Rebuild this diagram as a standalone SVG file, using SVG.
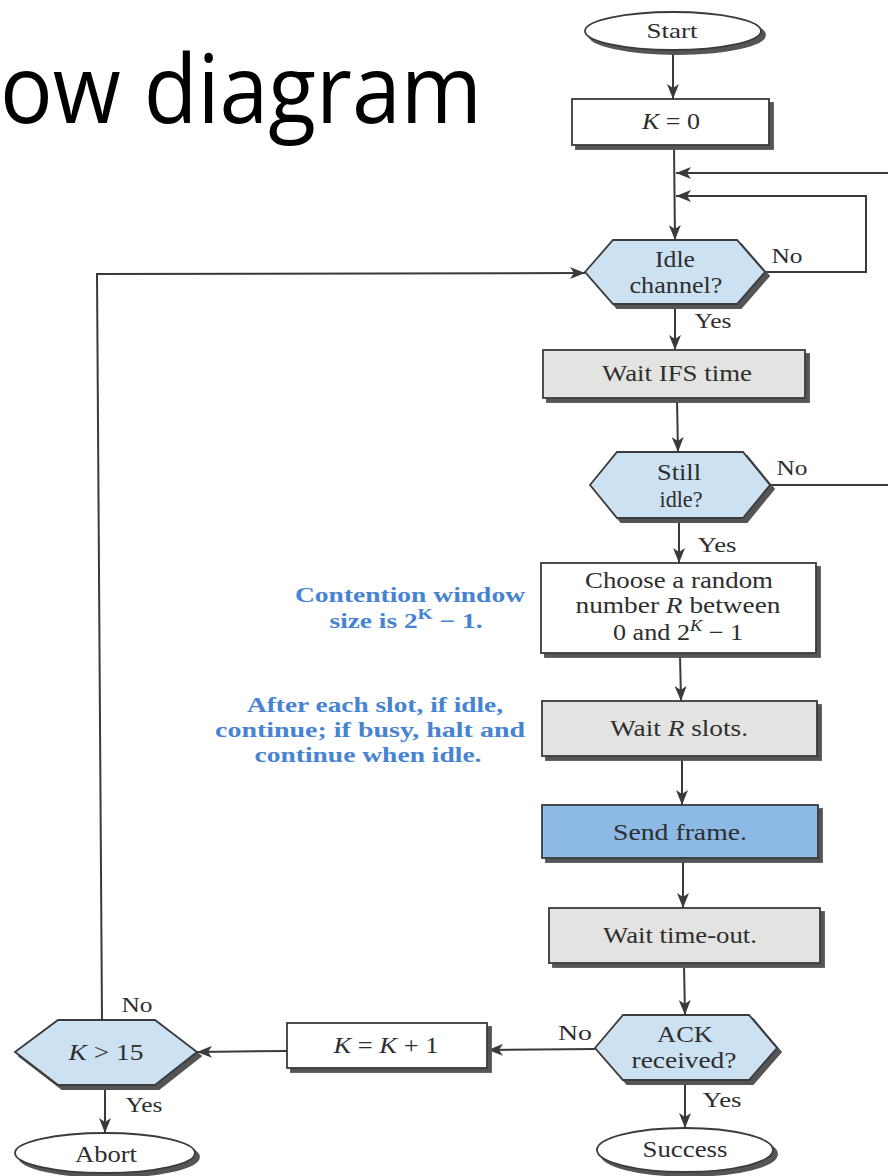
<svg xmlns="http://www.w3.org/2000/svg" width="888" height="1176" viewBox="0 0 888 1176">
<style>
.t{font-family:"Liberation Serif","Times New Roman",serif;font-size:23px;fill:#2e2e2e;text-anchor:middle}
.s{font-size:21px}
.i{font-style:italic}
.b{font-family:"Liberation Serif","Times New Roman",serif;font-size:21px;font-weight:bold;fill:#4683d2;text-anchor:middle}
.ttl{font-family:"Open Sans","Noto Sans","Liberation Sans",sans-serif;font-size:95px;fill:#000}
.ln{fill:none;stroke:#3a3a3a;stroke-width:2}
.box{stroke:#3a3a3a;stroke-width:1.8;filter:url(#sh)}
.wh{fill:#fff}
.gr{fill:#e3e3e1}
.bl{fill:#8cb9e6}
.hx{fill:#cce2f3}
</style>
<defs>
<filter id="sh" x="-10%" y="-10%" width="130%" height="140%">
<feFlood flood-color="#555" result="c"/>
<feComposite in="c" in2="SourceAlpha" operator="in" result="a"/>
<feOffset in="a" dx="4" dy="4" result="o"/>
<feMerge><feMergeNode in="o"/><feMergeNode in="SourceGraphic"/></feMerge>
</filter>
<marker id="ar" markerUnits="userSpaceOnUse" markerWidth="16" markerHeight="12" refX="15" refY="6" orient="auto">
<path d="M0,0 L15,6 L0,12 L4,6 z" fill="#3a3a3a"/>
</marker>
</defs>
<rect width="888" height="1176" fill="#fff"/>
<text class="ttl" x="0" y="123" textLength="482" lengthAdjust="spacingAndGlyphs">ow diagram</text>

<g id="connectors" class="ln">
<path d="M673,50 L673,99" marker-end="url(#ar)"/>
<path d="M674,147 L675,240" marker-end="url(#ar)"/>
<path d="M888,173 L676,173" marker-end="url(#ar)"/>
<path d="M765,272 L866,272 L866,196 L676,196" marker-end="url(#ar)"/>
<path d="M675,304 L675,350" marker-end="url(#ar)"/>
<path d="M677,400 L678,452" marker-end="url(#ar)"/>
<path d="M770,485 L888,485"/>
<path d="M679,518 L679,563" marker-end="url(#ar)"/>
<path d="M680,655 L681,701" marker-end="url(#ar)"/>
<path d="M682,758 L682,805" marker-end="url(#ar)"/>
<path d="M683,860 L683,908" marker-end="url(#ar)"/>
<path d="M684,965 L685,1015" marker-end="url(#ar)"/>
<path d="M685,1080 L685,1128" marker-end="url(#ar)"/>
<path d="M595,1049 L488,1050" marker-end="url(#ar)"/>
<path d="M287,1051 L197,1052" marker-end="url(#ar)"/>
<path d="M102,1020 L97,274 L585,273" marker-end="url(#ar)"/>
<path d="M105,1085 L105,1133" marker-end="url(#ar)"/>
</g>

<g id="start">
<ellipse class="box wh" cx="673" cy="31" rx="88" ry="19"/>
<text class="t s" x="672" y="38" textLength="51" lengthAdjust="spacingAndGlyphs">Start</text>
</g>
<g id="k0">
<rect class="box wh" x="572" y="99" width="197" height="46"/>
<text class="t" x="671" y="129" textLength="58" lengthAdjust="spacingAndGlyphs"><tspan class="i">K</tspan> = 0</text>
</g>
<g id="idle">
<polygon class="box hx" points="585,272 613,240 737,240 765,272 737,304 613,304"/>
<text class="t" x="675" y="267" textLength="40" lengthAdjust="spacingAndGlyphs">Idle</text>
<text class="t" x="676" y="293" textLength="93" lengthAdjust="spacingAndGlyphs">channel?</text>
<text class="t s" x="787" y="263" textLength="31" lengthAdjust="spacingAndGlyphs">No</text>
<text class="t s" x="713" y="328" textLength="37" lengthAdjust="spacingAndGlyphs">Yes</text>
</g>
<g id="ifs">
<rect class="box gr" x="543" y="350" width="262" height="48"/>
<text class="t" x="677" y="381" textLength="150" lengthAdjust="spacingAndGlyphs">Wait IFS time</text>
</g>
<g id="still">
<polygon class="box hx" points="590,485 617,452 743,452 770,485 743,518 617,518"/>
<text class="t" x="679" y="480" textLength="44" lengthAdjust="spacingAndGlyphs">Still</text>
<text class="t" x="681" y="507" textLength="43" lengthAdjust="spacingAndGlyphs">idle?</text>
<text class="t s" x="792" y="475" textLength="31" lengthAdjust="spacingAndGlyphs">No</text>
<text class="t s" x="717" y="552" textLength="39" lengthAdjust="spacingAndGlyphs">Yes</text>
</g>
<g id="choose">
<rect class="box wh" x="541" y="563" width="275" height="90"/>
<text class="t" x="679" y="588" textLength="188" lengthAdjust="spacingAndGlyphs">Choose a random</text>
<text class="t" x="678" y="613" textLength="205" lengthAdjust="spacingAndGlyphs">number <tspan class="i">R</tspan> between</text>
<text class="t" x="678" y="640" textLength="130" lengthAdjust="spacingAndGlyphs">0 and 2<tspan class="i" font-size="16" dy="-9">K</tspan><tspan dy="9"> − 1</tspan></text>
</g>
<g id="note1">
<text class="b" x="410" y="602" textLength="230" lengthAdjust="spacingAndGlyphs">Contention window</text>
<text class="b" x="406" y="628" textLength="153" lengthAdjust="spacingAndGlyphs">size is 2<tspan font-size="15" dy="-9">K</tspan><tspan dy="9"> − 1.</tspan></text>
</g>
<g id="note2">
<text class="b" x="375" y="712" textLength="256" lengthAdjust="spacingAndGlyphs">After each slot, if idle,</text>
<text class="b" x="370" y="737" textLength="310" lengthAdjust="spacingAndGlyphs">continue; if busy, halt and</text>
<text class="b" x="368" y="762" textLength="227" lengthAdjust="spacingAndGlyphs">continue when idle.</text>
</g>
<g id="waitr">
<rect class="box gr" x="542" y="701" width="275" height="55"/>
<text class="t" x="679" y="736" textLength="138" lengthAdjust="spacingAndGlyphs">Wait <tspan class="i">R</tspan> slots.</text>
</g>
<g id="send">
<rect class="box bl" x="542" y="805" width="276" height="53"/>
<text class="t" x="680" y="840" textLength="134" lengthAdjust="spacingAndGlyphs">Send frame.</text>
</g>
<g id="timeout">
<rect class="box gr" x="549" y="908" width="271" height="55"/>
<text class="t" x="680" y="943" textLength="154" lengthAdjust="spacingAndGlyphs">Wait time-out.</text>
</g>
<g id="ack">
<polygon class="box hx" points="595,1048 623,1015 749,1015 777,1048 749,1080 623,1080"/>
<text class="t" x="685" y="1042" textLength="56" lengthAdjust="spacingAndGlyphs">ACK</text>
<text class="t" x="684" y="1068" textLength="105" lengthAdjust="spacingAndGlyphs">received?</text>
<text class="t s" x="575" y="1040" textLength="34" lengthAdjust="spacingAndGlyphs">No</text>
<text class="t s" x="722" y="1107" textLength="39" lengthAdjust="spacingAndGlyphs">Yes</text>
</g>
<g id="success">
<ellipse class="box wh" cx="685" cy="1150" rx="88" ry="22"/>
<text class="t" x="685" y="1157" textLength="85" lengthAdjust="spacingAndGlyphs">Success</text>
</g>
<g id="kinc">
<rect class="box wh" x="287" y="1023" width="200" height="45"/>
<text class="t" x="386" y="1053" textLength="105" lengthAdjust="spacingAndGlyphs"><tspan class="i">K</tspan> = <tspan class="i">K</tspan> + 1</text>
</g>
<g id="k15">
<polygon class="box hx" points="15,1052 58,1020 155,1020 197,1052 155,1085 58,1085"/>
<text class="t" x="106" y="1060" textLength="75" lengthAdjust="spacingAndGlyphs"><tspan class="i">K</tspan> &gt; 15</text>
<text class="t s" x="137" y="1012" textLength="31" lengthAdjust="spacingAndGlyphs">No</text>
<text class="t s" x="144" y="1112" textLength="37" lengthAdjust="spacingAndGlyphs">Yes</text>
</g>
<g id="abort">
<ellipse class="box wh" cx="105" cy="1153" rx="90" ry="20"/>
<text class="t" x="106" y="1162" textLength="62" lengthAdjust="spacingAndGlyphs">Abort</text>
</g>
</svg>
